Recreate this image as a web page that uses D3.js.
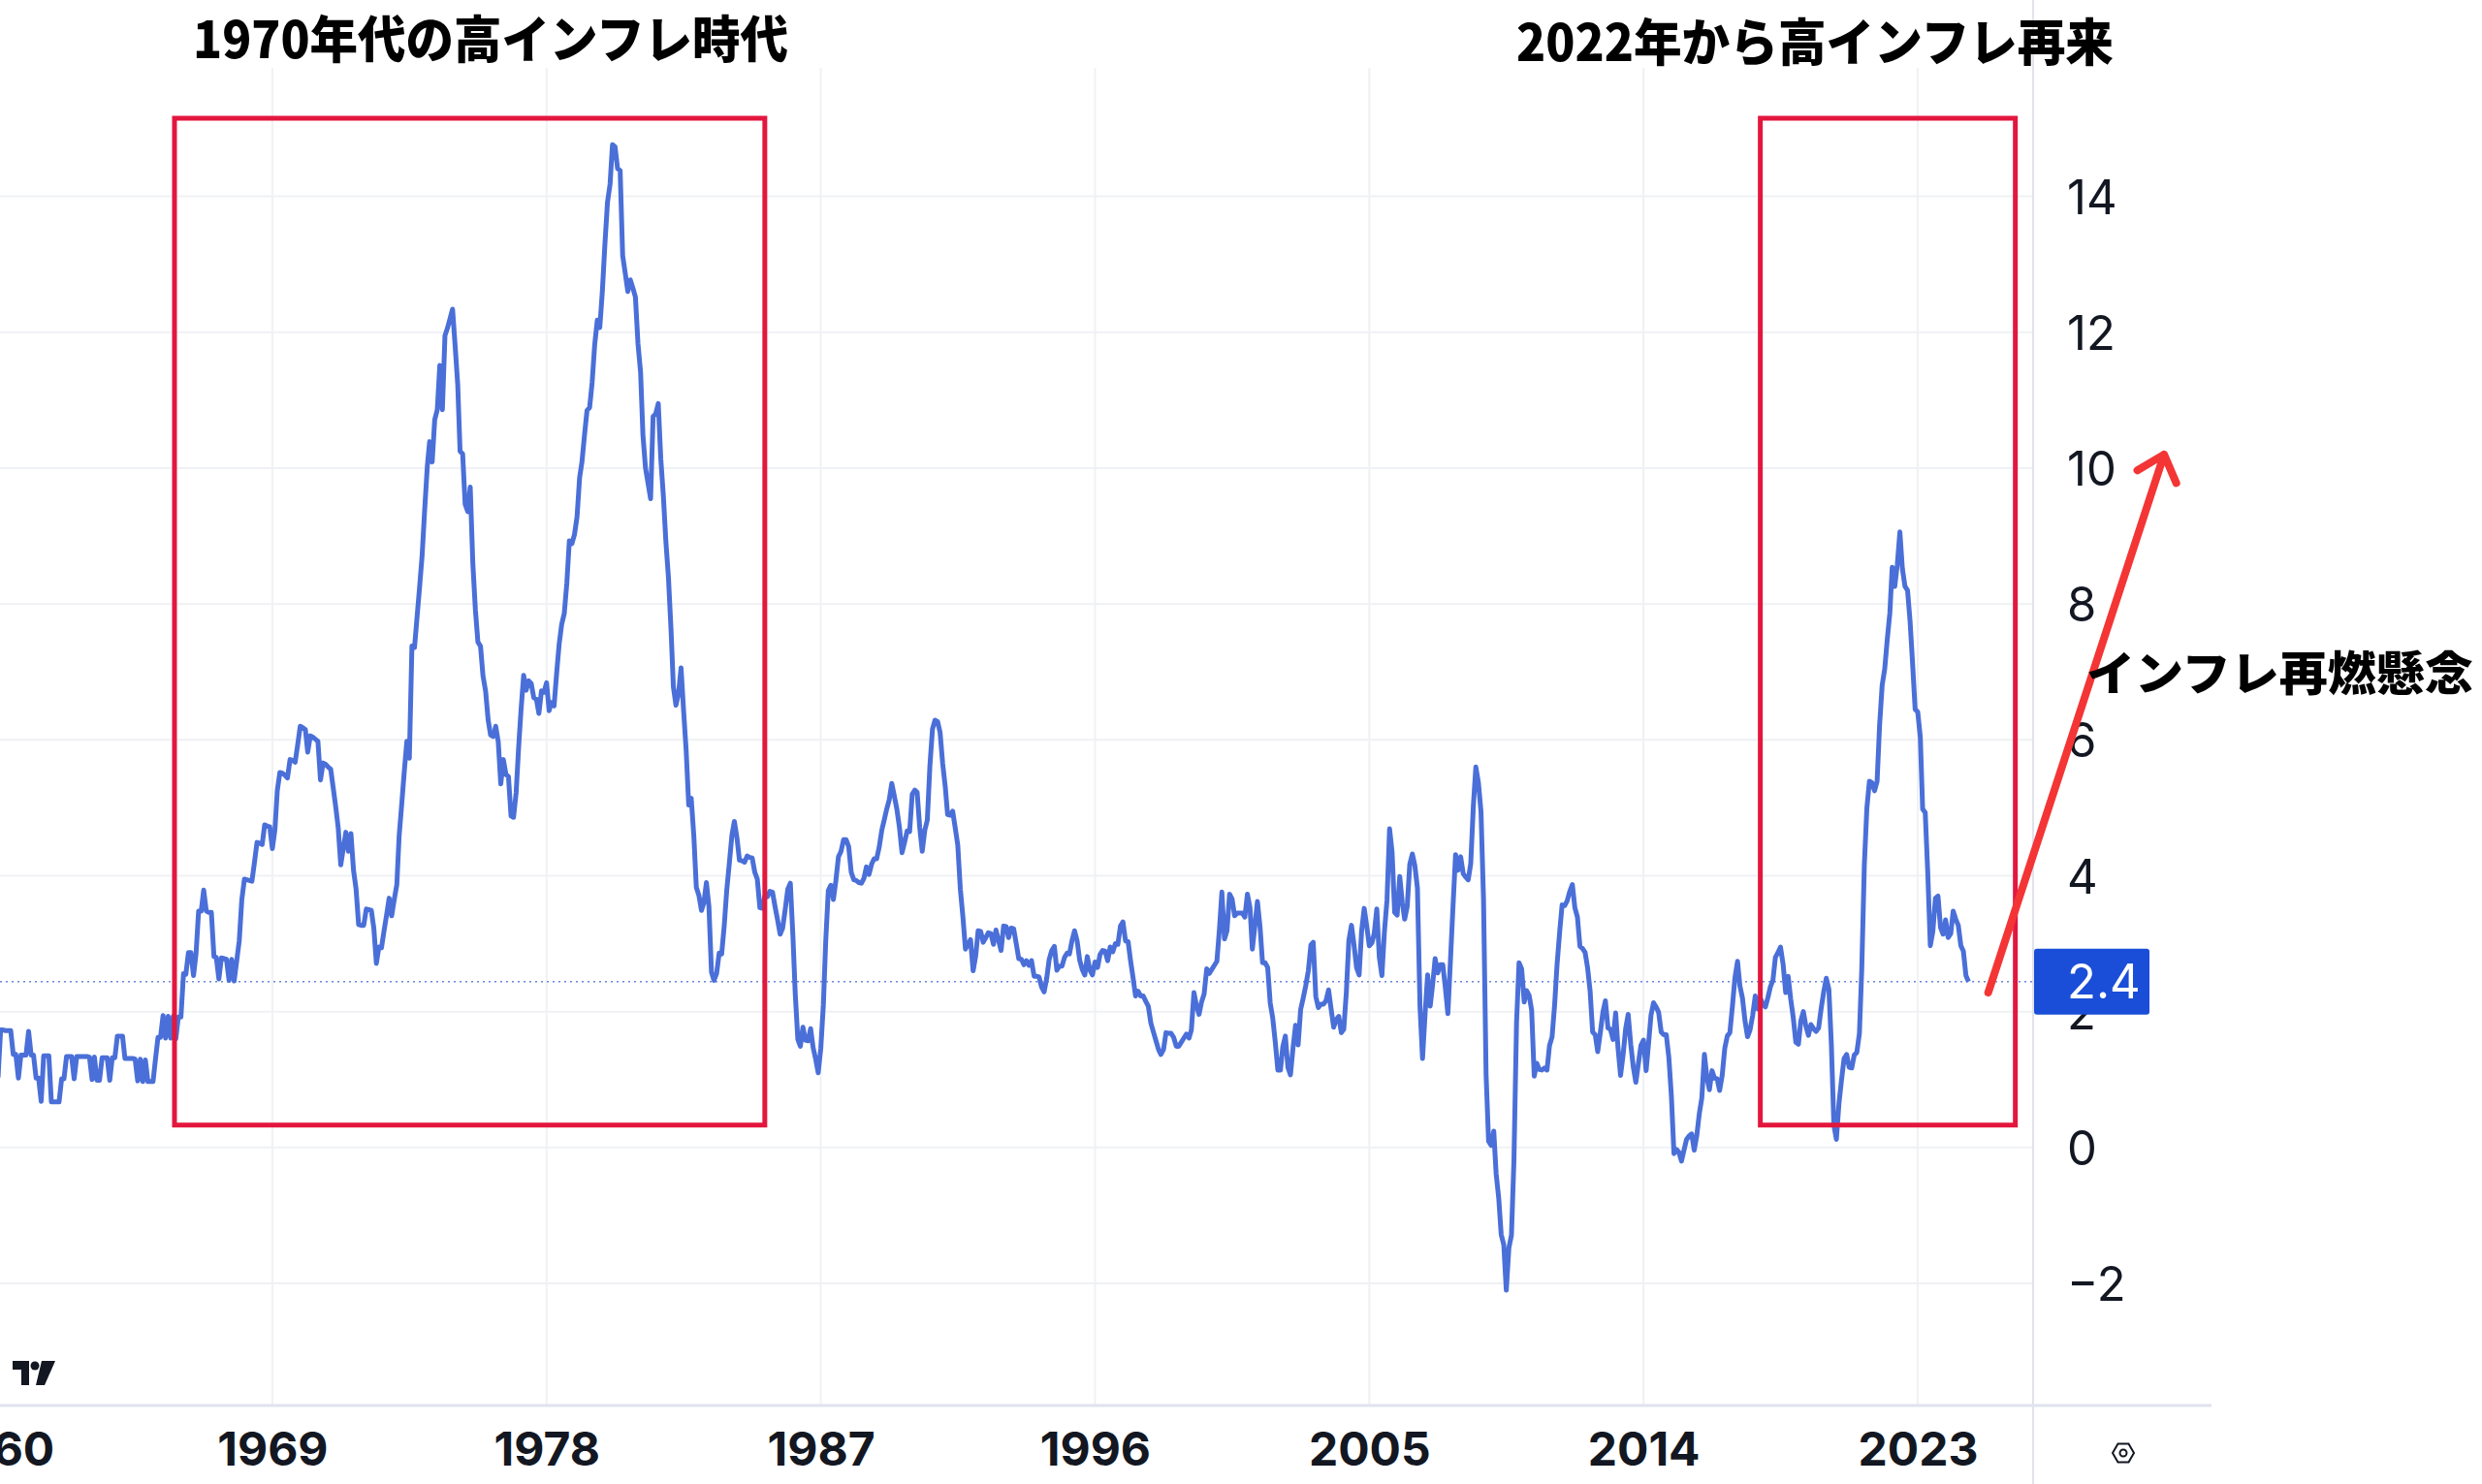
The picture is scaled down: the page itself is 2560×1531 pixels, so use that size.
<!DOCTYPE html>
<html><head><meta charset="utf-8">
<script src="https://cdn.jsdelivr.net/npm/d3@7"></script>
<style>html,body{margin:0;padding:0;background:#fff;overflow:hidden}</style>
</head><body>
<svg id="chart" width="2560" height="1531"></svg>
<script>
// US CPI year-over-year (%), monthly
const cpi1960s = [
1.03,1.73,1.73,1.72,1.72,1.72,1.37,1.37,1.02,1.36,1.36,1.36,
1.71,1.36,1.36,1.02,1.02,0.68,1.35,1.35,1.35,0.67,0.67,0.67,
0.67,1.01,1.01,1.34,1.34,1.34,1.01,1.34,1.34,1.34,1.34,1.34,
1.33,1.00,1.33,0.99,0.99,1.32,1.32,1.32,0.99,1.32,1.32,1.64,
1.64,1.64,1.31,1.31,1.31,1.31,1.30,0.98,1.30,0.97,1.29,0.97,
0.97,0.97,1.29,1.62,1.62,1.94,1.61,1.93,1.61,1.93,1.60,1.92,
1.92,2.56,2.55,2.87,2.87,2.53,2.85,3.48,3.48,3.79,3.48,3.46,
3.46,2.81,2.80,2.48,2.79,2.78,2.77,2.46,2.77,2.45,2.75,3.04,
3.65,3.95,3.94,3.93,3.92,4.20,4.49,4.48,4.46,4.75,4.73,4.72,
4.40,4.68,5.25,5.52,5.51,5.48,5.44,5.71,5.70,5.67,5.93,6.20];
const cpi1970s = [
6.18,6.15,5.82,6.06,6.04,6.01,5.98,5.41,5.66,5.64,5.60,5.57,
5.29,5.00,4.71,4.16,4.40,4.64,4.36,4.62,4.08,3.81,3.28,3.27,
3.27,3.51,3.50,3.49,3.23,2.71,2.95,2.94,3.19,3.42,3.67,3.41,
3.65,3.87,4.59,5.06,5.53,5.98,5.73,7.38,7.36,7.80,8.25,8.71,
9.39,10.02,10.39,10.09,10.71,10.86,11.51,10.86,11.95,12.06,12.20,12.34,
11.80,11.23,10.25,10.21,9.47,9.36,9.72,8.60,7.91,7.44,7.38,6.94,
6.72,6.29,6.07,6.05,6.20,5.97,5.35,5.71,5.49,5.46,4.88,4.86,
5.22,5.91,6.44,6.95,6.73,6.87,6.83,6.62,6.60,6.39,6.72,6.70,
6.84,6.43,6.55,6.50,6.97,7.41,7.70,7.86,8.31,8.93,8.89,9.02,
9.28,9.86,10.09,10.49,10.85,10.89,11.26,11.82,12.18,12.07,12.61,13.29];
const cpi1980s = [
13.91,14.18,14.76,14.73,14.41,14.38,13.13,12.87,12.60,12.77,12.65,12.52,
11.83,11.41,10.49,10.00,9.78,9.55,10.76,10.80,10.95,10.14,9.59,8.92,
8.39,7.62,6.78,6.51,6.68,7.06,6.44,5.85,5.04,5.14,4.59,3.83,
3.71,3.49,3.60,3.90,3.55,2.58,2.46,2.56,2.86,2.85,3.27,3.79,
4.19,4.60,4.80,4.56,4.23,4.22,4.20,4.29,4.27,4.26,4.05,3.95,
3.53,3.52,3.70,3.69,3.77,3.76,3.55,3.35,3.14,3.23,3.51,3.80,
3.89,3.11,2.26,1.59,1.49,1.77,1.58,1.57,1.75,1.47,1.30,1.10,
1.46,2.10,3.03,3.78,3.86,3.65,3.93,4.28,4.36,4.53,4.53,4.43,
4.05,3.94,3.93,3.90,3.89,3.96,4.13,4.02,4.17,4.25,4.25,4.42,
4.67,4.83,4.98,5.12,5.36,5.17,4.98,4.71,4.34,4.49,4.66,4.65];
const cpi1990s = [
5.20,5.26,5.23,4.71,4.36,4.67,4.82,5.62,6.16,6.29,6.27,6.11,
5.65,5.31,4.90,4.89,4.95,4.70,4.45,3.80,3.39,2.92,2.99,3.06,
2.60,2.82,3.19,3.18,3.02,3.09,3.16,3.15,2.99,3.20,3.05,2.90,
3.26,3.25,3.09,3.23,3.22,3.00,2.78,2.77,2.69,2.75,2.68,2.75,
2.52,2.52,2.51,2.36,2.29,2.49,2.77,2.90,2.96,2.61,2.67,2.67,
2.80,2.86,2.85,3.05,3.19,3.04,2.76,2.62,2.54,2.81,2.61,2.54,
2.73,2.65,2.84,2.90,2.89,2.75,2.95,2.88,3.00,2.99,3.26,3.32,
3.04,3.03,2.76,2.50,2.23,2.30,2.23,2.23,2.15,2.08,1.83,1.70,
1.57,1.44,1.37,1.44,1.69,1.68,1.68,1.62,1.49,1.49,1.55,1.61,
1.67,1.61,1.73,2.28,2.09,1.96,2.14,2.26,2.63,2.56,2.62,2.68];
const cpi2000s = [
2.74,3.22,3.76,3.07,3.19,3.73,3.66,3.41,3.45,3.45,3.45,3.39,
3.73,3.53,2.92,3.27,3.62,3.25,2.72,2.72,2.65,2.13,1.90,1.55,
1.14,1.14,1.48,1.64,1.18,1.07,1.46,1.80,1.51,2.03,2.20,2.38,
2.60,2.98,3.02,2.22,2.06,2.11,2.11,2.16,2.32,2.04,1.77,1.88,
1.93,1.69,1.74,2.29,3.05,3.27,2.99,2.65,2.54,3.19,3.52,3.26,
2.97,3.01,3.15,3.51,2.80,2.53,3.17,3.64,4.69,4.35,3.46,3.42,
3.99,3.60,3.36,3.55,4.17,4.32,4.15,3.82,2.06,1.31,1.97,2.54,
2.08,2.42,2.78,2.57,2.69,2.69,2.36,1.97,2.76,3.54,4.31,4.08,
4.28,4.03,3.98,3.94,4.18,5.02,5.60,5.37,4.94,3.66,1.07,0.09,
0.03,0.24,-0.38,-0.74,-1.28,-1.43,-2.10,-1.48,-1.29,-0.18,1.84,2.72];
const cpi2010s = [
2.63,2.14,2.31,2.24,2.02,1.05,1.24,1.15,1.14,1.17,1.14,1.50,
1.63,2.11,2.68,3.16,3.57,3.56,3.63,3.77,3.87,3.53,3.39,2.96,
2.93,2.87,2.65,2.30,1.70,1.66,1.41,1.69,1.99,2.16,1.76,1.74,
1.59,1.98,1.47,1.06,1.36,1.75,1.96,1.52,1.18,0.96,1.24,1.50,
1.58,1.13,1.51,1.95,2.13,2.07,1.99,1.70,1.66,1.66,1.32,0.76,
-0.09,-0.03,-0.07,-0.20,-0.04,0.12,0.17,0.20,-0.04,0.17,0.50,0.73,
1.37,1.02,0.85,1.13,1.02,1.01,0.84,1.06,1.46,1.64,1.69,2.07,
2.50,2.74,2.38,2.20,1.87,1.63,1.73,1.94,2.23,2.04,2.20,2.11,
2.07,2.21,2.36,2.46,2.80,2.87,2.95,2.70,2.28,2.52,2.18,1.91,
1.55,1.52,1.86,2.00,1.79,1.65,1.81,1.75,1.71,1.76,2.05,2.29];
const cpi2020s = [
2.49,2.33,1.54,0.33,0.12,0.65,0.99,1.31,1.37,1.18,1.17,1.36,
1.40,1.68,2.62,4.16,4.99,5.39,5.37,5.25,5.39,6.22,6.81,7.04,
7.48,7.87,8.54,8.26,8.58,9.06,8.52,8.26,8.20,7.75,7.11,6.45,
6.41,6.04,4.98,4.93,4.05,2.97,3.18,3.67,3.70,3.24,3.14,3.35,
3.09,3.15,3.48,3.36,3.27,2.97,2.89,2.53,2.44];

const startYear = 1960;
const yearTicks = [1960, 1969, 1978, 1987, 1996, 2005, 2014, 2023];
const valueTicks = [-2, 0, 2, 4, 6, 8, 10, 12, 14];

const titleLeft = "1970年代の高インフレ時代";
const titleRight = "2022年から高インフレ再来";
const noteText = "インフレ再燃懸念";

// highlight boxes [startDate, endDate, lowValue, highValue]
const boxes = [
  {x0: [1965, 9.5], x1: [1985, 2], lo: 0.33, hi: 15.15},
  {x0: [2017, 10], x1: [2026, 2.5], lo: 0.33, hi: 15.15}
];
// arrow from (date,value) to (date,value)
const arrowFrom = {d: [2025, 3.8], v: 2.28};
const arrowTo = {d: [2031, 1], v: 10.2};

// ------------------------------------------------------------
const values = [].concat(cpi1960s, cpi1970s, cpi1980s, cpi1990s, cpi2000s, cpi2010s, cpi2020s);
const data = values.map((v, i) => ({date: new Date(startYear + Math.floor(i / 12), i % 12, 1), value: v}));
const ymd = a => new Date(a[0], Math.floor(a[1]), 1 + Math.round((a[1] % 1) * 30));

const W = 2560, H = 1531;
const plotRight = 2097, plotTop = 70, axisY = 1450;

const x = d3.scaleTime().domain([new Date(1960, 0, 1), new Date(2023, 0, 1)]).range([-2, 1978]);
const y = d3.scaleLinear().domain([-2, 14]).range([1324, 202.6]);

const svg = d3.select("#chart");
svg.append("rect").attr("width", W).attr("height", H).attr("fill", "#ffffff");

// grid
const grid = svg.append("g");
grid.selectAll("line.v").data(yearTicks).join("line")
  .attr("x1", d => x(new Date(d, 0, 1))).attr("x2", d => x(new Date(d, 0, 1)))
  .attr("y1", plotTop).attr("y2", axisY)
  .attr("stroke", "#f0f1f4").attr("stroke-width", 2);
grid.selectAll("line.h").data(valueTicks).join("line")
  .attr("x1", 0).attr("x2", plotRight)
  .attr("y1", d => y(d)).attr("y2", d => y(d))
  .attr("stroke", "#f0f1f4").attr("stroke-width", 2);

// axis frame
svg.append("line").attr("x1", 0).attr("x2", 2281).attr("y1", axisY).attr("y2", axisY)
  .attr("stroke", "#e0e3eb").attr("stroke-width", 3);
svg.append("line").attr("x1", plotRight).attr("x2", plotRight).attr("y1", 0).attr("y2", H)
  .attr("stroke", "#e0e3eb").attr("stroke-width", 2);

// last value dotted line
const last = data[data.length - 1];
svg.append("line").attr("x1", 0).attr("x2", plotRight)
  .attr("y1", y(last.value)).attr("y2", y(last.value))
  .attr("stroke", "#6b86d9").attr("stroke-width", 1.5).attr("stroke-dasharray", "2,4");

// the series line
svg.append("path").datum(data)
  .attr("fill", "none").attr("stroke", "#4a6fd8").attr("stroke-width", 5)
  .attr("stroke-linejoin", "round")
  .attr("d", d3.line().x(d => x(d.date)).y(d => y(d.value)));

// highlight boxes
svg.selectAll("rect.box").data(boxes).join("rect")
  .attr("x", d => x(ymd(d.x0))).attr("y", d => y(d.hi))
  .attr("width", d => x(ymd(d.x1)) - x(ymd(d.x0)))
  .attr("height", d => y(d.lo) - y(d.hi))
  .attr("fill", "none").attr("stroke", "#e3173e").attr("stroke-width", 5);

// x axis
const xAxis = d3.axisBottom(x)
  .tickValues(yearTicks.map(t => new Date(t, 0, 1)))
  .tickFormat(d3.timeFormat("%Y")).tickSize(0).tickPadding(0);
const gx = svg.append("g").attr("transform", `translate(0,${axisY})`).call(xAxis);
gx.select(".domain").remove();
gx.selectAll("text").attr("y", 62).attr("dy", 0)
  .attr("font-family", "Inter, 'Liberation Sans', sans-serif").attr("font-weight", 700)
  .attr("font-size", 48).attr("fill", "#131722");

// y axis
const yAxis = d3.axisRight(y).tickValues(valueTicks).tickSize(0).tickPadding(0)
  .tickFormat(d => d < 0 ? "\u2212" + Math.abs(d) : String(d));
const gy = svg.append("g").attr("transform", `translate(2132,0)`).call(yAxis);
gy.select(".domain").remove();
gy.selectAll("text").attr("x", 0).attr("dy", "0.36em").attr("text-anchor", "start")
  .attr("font-family", "Inter, Lato, sans-serif").attr("font-weight", 400)
  .attr("font-size", 49).attr("fill", "#131722");

// last value label
const lbl = svg.append("g").attr("transform", `translate(${plotRight},${y(last.value)})`);
lbl.append("rect").attr("x", 1).attr("y", -34).attr("width", 119).attr("height", 68).attr("rx", 3)
  .attr("fill", "#1a4ed8");
lbl.append("text").attr("x", 35).attr("y", 0).attr("dy", "0.36em")
  .attr("font-family", "Inter, Lato, sans-serif").attr("font-size", 49).attr("fill", "#ffffff")
  .text(d3.format(".1f")(last.value));

// arrow
const ax0 = x(ymd(arrowFrom.d)), ay0 = y(arrowFrom.v);
const ax1 = x(ymd(arrowTo.d)), ay1 = y(arrowTo.v);
const ang = Math.atan2(ay0 - ay1, ax0 - ax1);
const hl = 32, ha = 0.72;
const arrow = d3.path();
arrow.moveTo(ax0, ay0); arrow.lineTo(ax1, ay1);
arrow.moveTo(ax1 + hl * Math.cos(ang - ha), ay1 + hl * Math.sin(ang - ha));
arrow.lineTo(ax1, ay1);
arrow.lineTo(ax1 + hl * Math.cos(ang + ha), ay1 + hl * Math.sin(ang + ha));
svg.append("path").attr("d", arrow.toString()).attr("fill", "none")
  .attr("stroke", "#f43535").attr("stroke-width", 8).attr("stroke-linecap", "round").attr("stroke-linejoin", "round");

// titles
const jp = "'Noto Sans CJK JP', sans-serif";
svg.append("text").attr("x", 199).attr("y", 60).attr("font-family", jp).attr("font-weight", 900)
  .attr("font-size", 52).attr("textLength", 614).attr("lengthAdjust", "spacingAndGlyphs")
  .attr("fill", "#000").text(titleLeft);
svg.append("text").attr("x", 1564).attr("y", 63).attr("font-family", jp).attr("font-weight", 900)
  .attr("font-size", 52).attr("textLength", 616).attr("lengthAdjust", "spacingAndGlyphs")
  .attr("fill", "#000").text(titleRight);
svg.append("text").attr("x", 2152).attr("y", 712).attr("font-family", jp).attr("font-weight", 900)
  .attr("font-size", 48).attr("textLength", 399).attr("lengthAdjust", "spacingAndGlyphs")
  .attr("fill", "#000").text(noteText);

// TradingView logo
const logo = svg.append("g").attr("transform", "translate(13,1404)").attr("fill", "#131722");
logo.append("path").attr("d", "M0,0 H17 V25 H9 V9 H0 Z");
logo.append("circle").attr("cx", 23).attr("cy", 5).attr("r", 4.5);
logo.append("path").attr("d", "M30,0 H44 L33,25 H24 Z");

// settings icon
const gear = svg.append("g").attr("transform", "translate(2190,1499)")
  .attr("fill", "none").attr("stroke", "#131722").attr("stroke-width", 2);
gear.append("path").attr("d", d3.range(6).map((i) => {
  const a = Math.PI / 3 * i;
  return (i ? "L" : "M") + (11 * Math.cos(a)).toFixed(2) + "," + (11 * Math.sin(a)).toFixed(2);
}).join("") + "Z");
gear.append("circle").attr("r", 3.5);
</script>
</body></html>
